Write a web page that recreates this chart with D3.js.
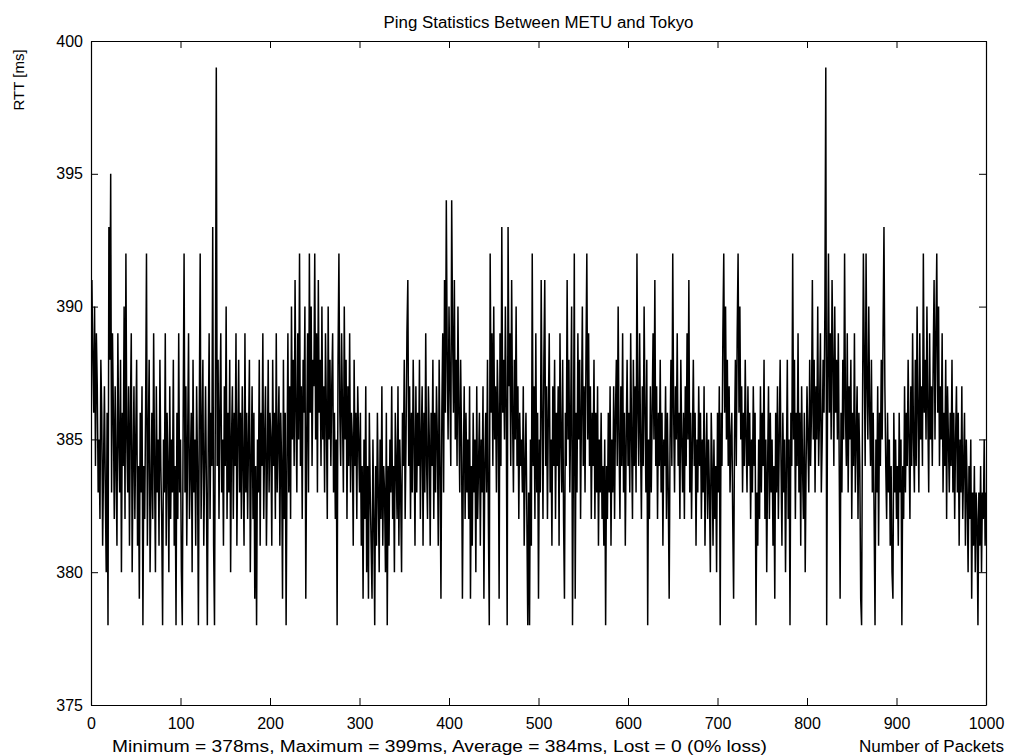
<!DOCTYPE html>
<html>
<head>
<meta charset="utf-8">
<script src="https://cdn.jsdelivr.net/npm/d3@7"></script>
<style>
  body { margin: 0; background: #fff; }
  text { font-family: "Liberation Sans", Arial, sans-serif; fill: #000; }
</style>
</head>
<body>
<svg id="chart" width="1010" height="756"></svg>
<script>
// labels
const titleText = "Ping Statistics Between METU and Tokyo";
const yLabel = "RTT [ms]";
const xLabel = "Number of Packets";
const summaryText = "Minimum = 378ms, Maximum = 399ms, Average = 384ms, Lost = 0 (0% loss)";

const xTicks = [0, 100, 200, 300, 400, 500, 600, 700, 800, 900, 1000];
const yTicks = [375, 380, 385, 390, 395, 400];

// RTT per packet (ms)
const rtt = [
  391,388,386,390,384,389,387,383,385,382,388,386,381,384,387,383,380,386,378,393,
  388,395,383,389,386,382,387,384,381,389,385,383,388,380,386,384,390,382,392,385,
  383,387,381,386,389,380,384,387,382,385,388,381,384,379,386,383,387,378,384,382,
  386,392,381,385,388,380,383,386,382,389,384,380,387,383,385,381,388,384,382,378,
  385,383,389,381,386,384,380,387,382,385,383,388,381,384,378,386,382,389,383,385,
  380,378,386,392,383,387,381,385,389,382,384,386,380,388,383,385,381,387,384,378,
  386,392,382,385,388,381,384,387,383,378,385,389,382,386,384,393,381,378,387,399,
  384,388,382,386,389,383,385,381,387,384,390,382,386,383,388,380,385,387,382,386,
  384,389,381,385,388,383,386,382,387,384,381,389,383,386,382,385,388,380,384,387,
  382,386,379,384,378,385,383,388,381,386,384,389,382,385,387,381,384,388,383,386,
  385,381,388,384,386,382,389,383,385,387,381,386,384,379,388,382,386,378,384,389,
  383,387,382,390,385,388,384,391,386,383,389,385,392,384,387,382,388,386,390,379,
  385,389,383,392,386,390,384,388,387,392,385,389,383,391,386,388,384,390,385,387,
  383,389,386,382,390,385,388,384,387,389,383,386,382,385,378,388,392,386,384,389,
  386,383,390,385,388,382,387,384,389,383,386,385,381,388,384,386,382,387,385,383,
  386,381,384,379,385,382,387,380,384,379,386,383,381,379,385,382,378,384,381,386,
  383,380,385,382,387,381,384,383,380,386,378,384,381,385,383,387,382,384,380,386,
  384,382,387,381,385,383,380,386,384,388,382,385,389,391,384,387,382,386,383,388,
  385,381,387,383,386,384,388,382,385,387,381,386,383,389,384,382,387,385,381,386,
  384,388,382,386,383,387,385,381,388,384,379,386,389,383,391,386,394,388,385,390,
  387,384,394,389,386,391,385,388,384,390,386,383,388,385,379,384,387,382,386,383,
  385,382,387,379,384,381,386,383,385,380,387,382,384,386,381,385,383,387,379,384,
  386,383,388,382,378,392,386,389,384,390,385,387,383,388,386,379,389,384,393,386,
  388,385,390,386,378,393,387,389,384,391,386,383,388,385,390,384,387,382,386,384,
  385,383,387,381,384,386,382,378,383,378,385,381,392,384,387,382,389,383,386,379,
  385,383,391,386,382,388,391,384,387,382,386,389,383,385,381,387,384,388,382,386,
  384,387,381,389,385,383,388,382,379,386,384,391,385,388,383,386,390,378,384,392,
  379,386,383,389,385,388,382,386,390,384,387,383,388,392,385,389,384,387,382,386,
  384,388,382,386,383,387,381,385,383,386,382,384,381,385,378,384,382,386,383,387,
  381,385,383,387,382,386,388,384,390,385,382,387,384,389,383,386,381,385,388,384,
  386,383,389,385,382,388,384,387,383,392,386,384,389,385,382,387,384,390,386,383,
  388,378,385,382,387,383,386,389,385,391,384,387,382,386,384,388,383,386,381,385,
  384,387,382,386,383,379,385,388,384,392,386,383,387,385,389,384,386,382,388,385,
  383,386,382,387,384,389,385,391,383,386,382,385,388,384,386,381,385,383,387,384,
  386,382,385,383,387,381,384,386,382,385,383,380,386,384,381,385,382,384,380,386,
  383,387,378,386,384,389,392,386,390,385,388,384,387,383,385,386,382,379,385,388,
  384,389,392,386,390,385,387,383,386,384,388,385,383,387,384,386,382,385,383,387,
  384,386,378,383,381,385,382,387,383,386,384,388,382,385,380,384,387,382,386,383,
  385,381,384,379,386,383,387,382,385,388,384,381,386,383,385,380,384,388,382,385,
  378,386,384,392,385,388,382,386,384,389,383,386,381,387,384,382,386,380,384,387,
  385,383,388,384,386,391,385,388,383,387,385,390,384,386,389,383,385,388,386,390,
  399,378,387,392,386,389,385,391,388,384,390,386,388,385,389,384,379,386,383,388,
  385,392,386,384,389,383,387,385,388,382,386,384,389,383,385,387,382,386,384,379,
  378,386,392,388,384,392,387,385,390,386,384,388,383,386,382,378,385,383,387,381,
  386,384,388,385,389,393,387,384,382,386,383,385,381,384,380,379,386,383,385,382,
  384,381,386,383,385,378,384,382,387,383,386,384,388,385,382,387,384,389,385,383,
  388,384,390,386,383,389,385,387,384,392,386,388,385,390,386,383,389,385,387,384,
  388,391,385,389,392,386,390,384,387,385,389,383,386,384,388,382,387,385,383,386,
  384,388,383,386,382,385,387,383,386,381,385,383,387,382,384,386,381,385,383,380,
  384,382,385,379,383,381,384,380,383,382,378,383,381,384,380,383,382,385,381,383
];

const box = { left: 91, right: 986, top: 41, bottom: 705 };
const svg = d3.select("#chart");

const x = d3.scaleLinear().domain([0, 1000]).range([box.left, box.right]);
const y = d3.scaleLinear().domain([375, 400]).range([box.bottom, box.top]);

// data line (packet numbers start at 1)
const line = d3.line()
  .x((d, i) => x(i + 1))
  .y(d => y(d));

svg.append("path")
  .datum(rtt)
  .attr("fill", "none")
  .attr("stroke", "#000")
  .attr("stroke-width", 1.5)
  .attr("stroke-linejoin", "miter")
  .attr("d", line);

// axes: matlab style, ticks pointing in on all four sides
const tickLen = 7;
const bottomAxis = d3.axisBottom(x).tickValues(xTicks).tickFormat(d3.format("d"))
  .tickSizeInner(-tickLen).tickSizeOuter(0).tickPadding(13);
const topAxis = d3.axisTop(x).tickValues(xTicks).tickSizeInner(-tickLen).tickSizeOuter(0).tickFormat("");
const leftAxis = d3.axisLeft(y).tickValues(yTicks).tickSizeInner(-tickLen).tickSizeOuter(0).tickPadding(8);
const rightAxis = d3.axisRight(y).tickValues(yTicks).tickSizeInner(-tickLen).tickSizeOuter(0).tickFormat("");

function styleAxis(g) {
  g.selectAll("path.domain").attr("stroke", "#000").attr("stroke-width", 1.2);
  g.selectAll(".tick line").attr("stroke", "#000").attr("stroke-width", 1);
  g.selectAll(".tick text")
    .style("font-family", "'Liberation Sans', Arial, sans-serif")
    .style("font-size", "16px")
    .attr("fill", "#000");
}

svg.append("g").attr("transform", `translate(0,${box.bottom})`).call(bottomAxis).call(styleAxis);
svg.append("g").attr("transform", `translate(0,${box.top})`).call(topAxis).call(styleAxis);
svg.append("g").attr("transform", `translate(${box.left},0)`).call(leftAxis).call(styleAxis);
svg.append("g").attr("transform", `translate(${box.right},0)`).call(rightAxis).call(styleAxis);

// texts
svg.append("text")
  .attr("x", (box.left + box.right) / 2)
  .attr("y", 28)
  .attr("text-anchor", "middle")
  .style("font-size", "16px")
  .attr("textLength", 310)
  .attr("lengthAdjust", "spacingAndGlyphs")
  .text(titleText);

svg.append("text")
  .attr("transform", "translate(24,80) rotate(-90)")
  .attr("text-anchor", "middle")
  .style("font-size", "15px")
  .text(yLabel);

svg.append("text")
  .attr("x", 112)
  .attr("y", 752)
  .style("font-size", "16px")
  .attr("textLength", 655)
  .attr("lengthAdjust", "spacingAndGlyphs")
  .text(summaryText);

svg.append("text")
  .attr("x", 1004)
  .attr("y", 752)
  .attr("text-anchor", "end")
  .style("font-size", "16px")
  .attr("textLength", 145)
  .attr("lengthAdjust", "spacingAndGlyphs")
  .text(xLabel);
</script>
</body>
</html>
